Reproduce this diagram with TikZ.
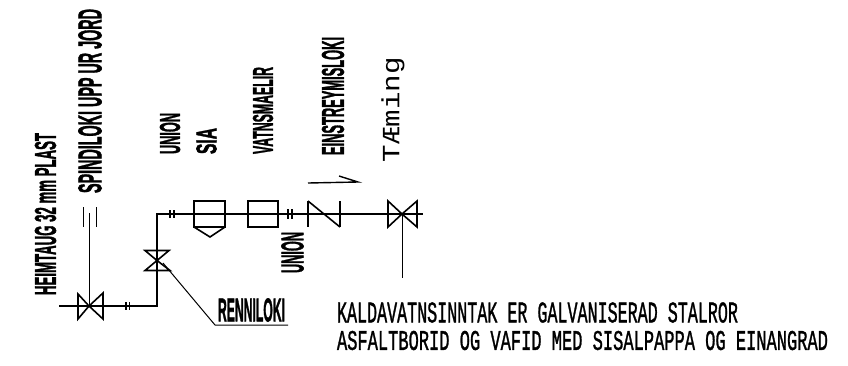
\documentclass[tikz,border=0pt]{standalone}
\usepackage{graphicx}
\usepackage{fontspec}
\setmainfont{Liberation Sans}
\setmonofont{Liberation Mono}
\newfontfamily\heavy[UprightFont=* Bold,FakeBold=2]{Liberation Sans}
\newfontfamily\plotter[FakeBold=1.5]{Liberation Mono}
\newcommand{\fitlabel}[3]{\resizebox{#1pt}{#2pt}{#3}}
\tikzset{
  pipe/.style={line width=1.4pt,black},
  thinpipe/.style={line width=1pt,black},
  symb/.style={line width=1.6pt,black,line join=miter},
  lab/.style={inner sep=0pt,outer sep=0pt,black},
  vlab/.style={lab,rotate=90}
}
\begin{document}
\begin{tikzpicture}[x=1pt,y=-1pt]
\useasboundingbox (0,0) rectangle (848,365);
% labels
\node[vlab] (heim) at (45.5,214) {\fitlabel{162}{21}{\heavy HEIMTAUG 32 mm PLAST}};
\node[vlab] (spin) at (90,101) {\fitlabel{184}{23}{\heavy SPINDILOKI UPP UR JORD}};
\node[vlab] (uni1) at (170,133.5) {\fitlabel{41}{20}{\heavy UNION}};
\node[vlab] (sia) at (206.5,141) {\fitlabel{26}{20}{\heavy SIA}};
\node[vlab] (vatn) at (263,110.5) {\fitlabel{87}{20}{\heavy VATNSMAELIR}};
\node[vlab] (uni2) at (292.5,252.5) {\fitlabel{41}{22}{\heavy UNION}};
\node[vlab] (eins) at (333,96) {\fitlabel{118}{22}{\heavy EINSTREYMISLOKI}};
\node[vlab] (taem) at (393,109.5) {\fitlabel{105}{18}{\ttfamily TÆming}};
\node[lab] (renn) at (251.5,310) {\fitlabel{67}{23}{\heavy RENNILOKI}};
\node[lab,anchor=west] (kald) at (337,312.5) {\fitlabel{401}{20}{\plotter KALDAVATNSINNTAK ER GALVANISERAD STALROR}};
\node[lab,anchor=west] (asfa) at (337,340.5) {\fitlabel{491}{19}{\plotter ASFALTBORID OG VAFID MED SISALPAPPA OG EINANGRAD}};
% pipe points
\coordinate (start) at (59,306);
\coordinate (v1) at (89,306);
\coordinate (elb1) at (157,306);
\coordinate (v2) at (157,260.5);
\coordinate (elb2) at (157,214);
\coordinate (siaL) at (194,214);
\coordinate (siaR) at (225,214);
\coordinate (vatL) at (248,214);
\coordinate (vatR) at (278,214);
\coordinate (chkL) at (308,214);
\coordinate (chkR) at (340,214);
\coordinate (v3) at (402,214);
\coordinate (endp) at (423,214);
\coordinate (stem1) at (89,213);
\coordinate (stem3) at (402,278);
\coordinate (lead1) at (163,263);
\coordinate (lead2) at (215,325);
\coordinate (lead3) at (288,325);
\coordinate (arrA) at (308,183);
\coordinate (arrB) at (358,182);
\coordinate (arrC) at (339,176);
% pipe
\draw[pipe] (start) -- (v1) -- (elb1) -- (v2) -- (elb2) -- (siaL);
\draw[pipe] (siaL) -- (siaR) -- (vatL) -- (vatR) -- (chkL) -- (chkR) -- (v3) -- (endp);
\draw[thinpipe] (stem1) -- (v1);
\draw[thinpipe] (v3) -- (stem3);
\draw[thinpipe] (lead1) -- (lead2) -- (lead3);
% spindle cap
\draw[thinpipe] (83,207) -- (83,227) (96,207) -- (96,227);
% valve 1 (bow-tie)
\draw[symb] (v1) -- ++(-11,-12) -- ++(0,25) -- (v1) -- ++(14,-13) -- ++(0,26) -- cycle;
% valve 2 (hourglass)
\draw[symb] (v2) -- ++(-12,-10) -- ++(24,0) -- (v2) -- ++(-12,10) -- ++(25,0) -- cycle;
% unions
\draw[symb] (126,302) -- (126,310) (129.5,302) -- (129.5,310);
\draw[symb] (170,210) -- (170,218) (174,210) -- (174,218);
\draw[symb] (288,209) -- (288,219) (292,209) -- (292,219);
% SIA strainer
\draw[symb] (194,201) rectangle (225,227);
\draw[symb] (194,227) -- (210,237) -- (225,227);
% meter
\draw[symb] (248,201) rectangle (278,227);
% check valve
\draw[symb] (308,201) -- (308,227) (340,201) -- (340,227);
\draw[symb] (308,201) -- (340,227);
% valve 3 (bow-tie)
\draw[symb] (v3) -- ++(-14,-13) -- ++(0,26) -- (v3) -- ++(15,-13) -- ++(0,26) -- cycle;
% flow arrow
\draw[pipe] (arrA) -- (arrB) -- (arrC);
\end{tikzpicture}
\end{document}
